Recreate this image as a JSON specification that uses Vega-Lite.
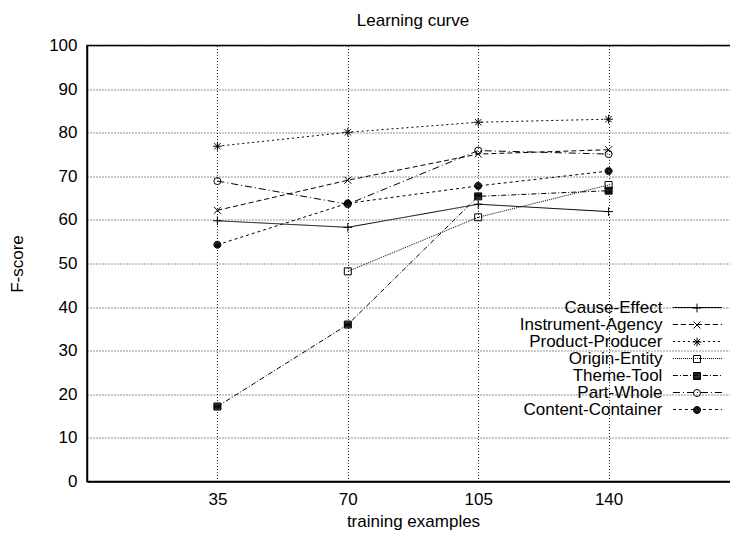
{
  "$schema": "https://vega.github.io/schema/vega-lite/v6.json",
  "width": 652,
  "height": 436,
  "autosize": {"type": "none"},
  "padding": {"left": 87, "top": 45.5, "right": 0, "bottom": 51.5},
  "title": {"text": "Learning curve", "fontSize": 17, "font": "Liberation Sans", "fontWeight": "normal", "color": "black", "offset": 7},
  "config": {
    "font": "Liberation Sans",
    "view": {"stroke": "black", "strokeWidth": 1.5},
    "axis": {
      "labelFont": "Liberation Sans", "labelFontSize": 17, "labelColor": "black", "labelPadding": 10,
      "ticks": false, "tickSize": 0,
      "domainColor": "black", "domainWidth": 1.5,
      "grid": true, "gridColor": "black", "gridDash": [1, 2], "gridWidth": 1, "gridOpacity": 0.85,
      "titleFont": "Liberation Sans", "titleFontSize": 17, "titleFontWeight": "normal", "titleColor": "black"
    }
  },
  "data": {
    "values": [
      {"relation": "Cause-Effect", "examples": 35, "fscore": 59.8},
      {"relation": "Cause-Effect", "examples": 70, "fscore": 58.3},
      {"relation": "Cause-Effect", "examples": 105, "fscore": 63.6},
      {"relation": "Cause-Effect", "examples": 140, "fscore": 61.9},
      {"relation": "Instrument-Agency", "examples": 35, "fscore": 62.2},
      {"relation": "Instrument-Agency", "examples": 70, "fscore": 69.1},
      {"relation": "Instrument-Agency", "examples": 105, "fscore": 75.1},
      {"relation": "Instrument-Agency", "examples": 140, "fscore": 76.1},
      {"relation": "Product-Producer", "examples": 35, "fscore": 76.9},
      {"relation": "Product-Producer", "examples": 70, "fscore": 80.1},
      {"relation": "Product-Producer", "examples": 105, "fscore": 82.4},
      {"relation": "Product-Producer", "examples": 140, "fscore": 83.1},
      {"relation": "Origin-Entity", "examples": 70, "fscore": 48.2},
      {"relation": "Origin-Entity", "examples": 105, "fscore": 60.6},
      {"relation": "Origin-Entity", "examples": 140, "fscore": 68.0},
      {"relation": "Theme-Tool", "examples": 35, "fscore": 17.2},
      {"relation": "Theme-Tool", "examples": 70, "fscore": 36.0},
      {"relation": "Theme-Tool", "examples": 105, "fscore": 65.4},
      {"relation": "Theme-Tool", "examples": 140, "fscore": 66.7},
      {"relation": "Part-Whole", "examples": 35, "fscore": 68.9},
      {"relation": "Part-Whole", "examples": 70, "fscore": 63.6},
      {"relation": "Part-Whole", "examples": 105, "fscore": 75.9},
      {"relation": "Part-Whole", "examples": 140, "fscore": 75.1},
      {"relation": "Content-Container", "examples": 35, "fscore": 54.3},
      {"relation": "Content-Container", "examples": 70, "fscore": 63.8},
      {"relation": "Content-Container", "examples": 105, "fscore": 67.8},
      {"relation": "Content-Container", "examples": 140, "fscore": 71.2}
    ]
  },
  "encoding": {
    "x": {
      "field": "examples", "type": "quantitative",
      "scale": {"domain": [0, 175], "nice": false},
      "axis": {"values": [35, 70, 105, 140], "title": "training examples", "titlePadding": 6},
      "title": "training examples"
    },
    "y": {
      "field": "fscore", "type": "quantitative",
      "scale": {"domain": [0, 100], "nice": false},
      "axis": {"values": [0, 10, 20, 30, 40, 50, 60, 70, 80, 90, 100], "title": "F-score", "titlePadding": 22},
      "title": "F-score"
    }
  },
  "layer": [
    {
      "mark": {"type": "line", "color": "black", "strokeWidth": 1},
      "encoding": {
        "strokeDash": {
          "field": "relation", "type": "nominal",
          "scale": {
            "domain": ["Cause-Effect", "Instrument-Agency", "Product-Producer", "Origin-Entity", "Theme-Tool", "Part-Whole", "Content-Container"],
            "range": [[1, 0], [5, 3], [2, 3], [1, 1], [5, 2, 1, 2], [7, 3, 1, 3], [3, 3]]
          },
          "legend": {
            "orient": "none", "legendX": 602, "legendY": 253.5, "title": null,
            "symbolType": "M-6,0H6", "symbolSize": 67, "symbolStrokeWidth": 1, "symbolStrokeColor": "black",
            "symbolOffset": 0,
            "labelAlign": "right", "labelOffset": -43.6, "labelFontSize": 17, "labelFont": "Liberation Sans",
            "labelColor": "black", "labelLimit": 400, "rowPadding": -1, "padding": 0
          }
        }
      }
    },
    {
      "mark": {"type": "point", "filled": false, "color": "black", "stroke": "black", "strokeWidth": 1, "opacity": 1, "size": 49},
      "encoding": {
        "shape": {
          "field": "relation", "type": "nominal",
          "sort": ["Cause-Effect", "Instrument-Agency", "Product-Producer", "Origin-Entity", "Theme-Tool", "Part-Whole", "Content-Container"],
          "scale": {"range": [
            "M-1.25,0H1.25M0,-1.25V1.25",
            "M-1,-1L1,1M-1,1L1,-1",
            "M-1.25,0H1.25M0,-1.25V1.25M-0.9,-0.9L0.9,0.9M-0.9,0.9L0.9,-0.9",
            "square",
            "M-1,-1H1V1H-1ZM-1,-0.75H1M-1,-0.5H1M-1,-0.25H1M-1,0H1M-1,0.25H1M-1,0.5H1M-1,0.75H1",
            "circle",
            "M1,0A1,1,0,1,1,-1,0A1,1,0,1,1,1,0ZM-0.66,-0.75H0.66M-0.87,-0.5H0.87M-0.97,-0.25H0.97M-1,0H1M-0.97,0.25H0.97M-0.87,0.5H0.87M-0.66,0.75H0.66M0.5,0A0.5,0.5,0,1,1,-0.5,0A0.5,0.5,0,1,1,0.5,0Z"
          ]},
          "legend": {
            "orient": "none", "legendX": 601.5, "legendY": 254, "title": null,
            "symbolSize": 49, "symbolStrokeWidth": 1, "symbolStrokeColor": "black", "symbolFillColor": "transparent",
            "labelExpr": "''", "labelFontSize": 17, "labelFont": "Liberation Sans",
            "rowPadding": -1, "padding": 0, "zindex": 1
          }
        }
      }
    }
  ]
}
